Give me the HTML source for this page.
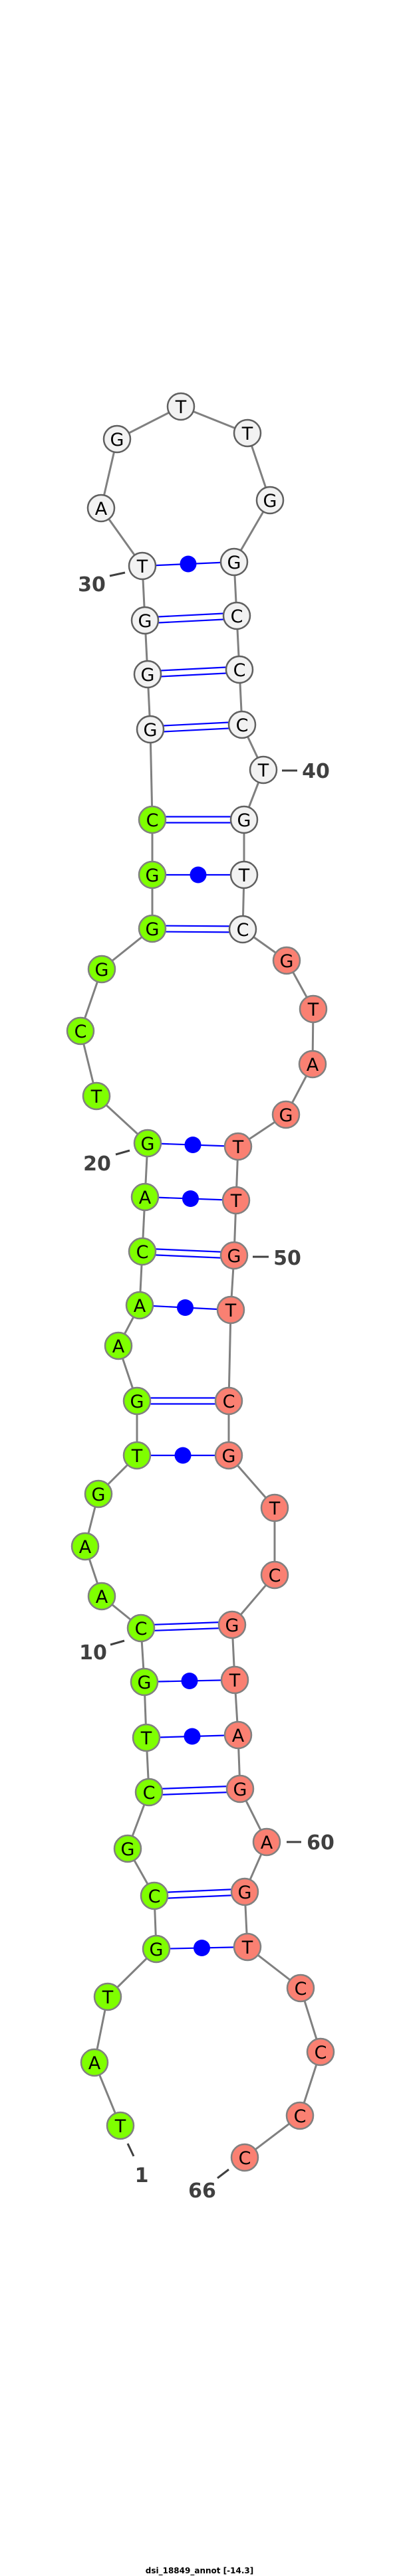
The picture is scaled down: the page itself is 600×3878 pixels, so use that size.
<!DOCTYPE html>
<html><head><meta charset="utf-8"><style>html,body{margin:0;padding:0;background:#fff}svg{display:block}</style></head>
<body>
<svg width="600" height="3878" viewBox="0 0 600 3878" xmlns="http://www.w3.org/2000/svg">
<polyline fill="none" stroke="#808080" stroke-width="3" points="181,3200 142,3105 162,3006 235,2934 232,2854 192,2783 224,2698 220,2616 217,2532 212,2451 153,2403 128,2328 148,2249 206,2191 206,2109 178,2026 210,1965 214,1884 218,1802 222,1721 145,1650 121,1552 153,1459 229,1398 229,1317 229,1234 226,1098 222,1015 218,934 214,852 152,765 176,661 272,612 372,652 406,753 352,846 356,927 360,1008 364,1091 396,1159 367,1234 367,1317 365,1399 431,1446 471,1519 470,1602 430,1678 358,1726 355,1807 352,1890 347,1972 344,2109 344,2191 413,2270 413,2371 349,2446 353,2529 358,2612 361,2693 401,2773 368,2848 372,2931 452,2993 482,3089 451,3185 368,3248"/>
<g stroke="#0000ff" stroke-width="2.2" fill="none">
<!-- single (dot) pairs -->
<line x1="235" y1="2934" x2="372" y2="2931"/>
<line x1="220" y1="2616" x2="358" y2="2612"/>
<line x1="217" y1="2532" x2="353" y2="2529"/>
<line x1="206" y1="2191" x2="344" y2="2191"/>
<line x1="210" y1="1965" x2="347" y2="1972"/>
<line x1="218" y1="1802" x2="355" y2="1807"/>
<line x1="222" y1="1721" x2="358" y2="1726"/>
<line x1="229" y1="1317" x2="367" y2="1317"/>
<line x1="214" y1="852" x2="352" y2="846"/>
<!-- double pairs -->
<line x1="232" y1="2849.5" x2="368" y2="2843.5"/><line x1="232" y1="2858.5" x2="368" y2="2852.5"/>
<line x1="224" y1="2693.5" x2="361" y2="2688.5"/><line x1="224" y1="2702.5" x2="361" y2="2697.5"/>
<line x1="212" y1="2446.5" x2="349" y2="2441.5"/><line x1="212" y1="2455.5" x2="349" y2="2450.5"/>
<line x1="206" y1="2104.5" x2="344" y2="2104.5"/><line x1="206" y1="2113.5" x2="344" y2="2113.5"/>
<line x1="214" y1="1879.5" x2="352" y2="1885.5"/><line x1="214" y1="1888.5" x2="352" y2="1894.5"/>
<line x1="229" y1="1393.5" x2="365" y2="1394.5"/><line x1="229" y1="1402.5" x2="365" y2="1403.5"/>
<line x1="229" y1="1229.5" x2="367" y2="1229.5"/><line x1="229" y1="1238.5" x2="367" y2="1238.5"/>
<line x1="226" y1="1093.5" x2="364" y2="1086.5"/><line x1="226" y1="1102.5" x2="364" y2="1095.5"/>
<line x1="222" y1="1010.5" x2="360" y2="1003.5"/><line x1="222" y1="1019.5" x2="360" y2="1012.5"/>
<line x1="218" y1="929.5" x2="356" y2="922.5"/><line x1="218" y1="938.5" x2="356" y2="931.5"/>
</g>
<g fill="#0000ff">
<circle cx="303.5" cy="2932.5" r="12.5"/>
<circle cx="289" cy="2614" r="12.5"/>
<circle cx="285" cy="2530.5" r="12.5"/>
<circle cx="275" cy="2191" r="12.5"/>
<circle cx="278.5" cy="1968.5" r="12.5"/>
<circle cx="286.5" cy="1804.5" r="12.5"/>
<circle cx="290" cy="1723.5" r="12.5"/>
<circle cx="298" cy="1317" r="12.5"/>
<circle cx="283" cy="849" r="12.5"/>
</g>
<g stroke-width="2.5">
<g fill="#7fff00" stroke="#808080">
<circle cx="181" cy="3200" r="20"/><circle cx="142" cy="3105" r="20"/><circle cx="162" cy="3006" r="20"/><circle cx="235" cy="2934" r="20"/><circle cx="232" cy="2854" r="20"/><circle cx="192" cy="2783" r="20"/><circle cx="224" cy="2698" r="20"/><circle cx="220" cy="2616" r="20"/><circle cx="217" cy="2532" r="20"/><circle cx="212" cy="2451" r="20"/><circle cx="153" cy="2403" r="20"/><circle cx="128" cy="2328" r="20"/><circle cx="148" cy="2249" r="20"/><circle cx="206" cy="2191" r="20"/><circle cx="206" cy="2109" r="20"/><circle cx="178" cy="2026" r="20"/><circle cx="210" cy="1965" r="20"/><circle cx="214" cy="1884" r="20"/><circle cx="218" cy="1802" r="20"/><circle cx="222" cy="1721" r="20"/><circle cx="145" cy="1650" r="20"/><circle cx="121" cy="1552" r="20"/><circle cx="153" cy="1459" r="20"/><circle cx="229" cy="1398" r="20"/><circle cx="229" cy="1317" r="20"/><circle cx="229" cy="1234" r="20"/>
</g>
<g fill="#f2f2f2" stroke="#606060">
<circle cx="226" cy="1098" r="20"/><circle cx="222" cy="1015" r="20"/><circle cx="218" cy="934" r="20"/><circle cx="214" cy="852" r="20"/><circle cx="152" cy="765" r="20"/><circle cx="176" cy="661" r="20"/><circle cx="272" cy="612" r="20"/><circle cx="372" cy="652" r="20"/><circle cx="406" cy="753" r="20"/><circle cx="352" cy="846" r="20"/><circle cx="356" cy="927" r="20"/><circle cx="360" cy="1008" r="20"/><circle cx="364" cy="1091" r="20"/><circle cx="396" cy="1159" r="20"/><circle cx="367" cy="1234" r="20"/><circle cx="367" cy="1317" r="20"/><circle cx="365" cy="1399" r="20"/>
</g>
<g fill="#fa8072" stroke="#808080">
<circle cx="431" cy="1446" r="20"/><circle cx="471" cy="1519" r="20"/><circle cx="470" cy="1602" r="20"/><circle cx="430" cy="1678" r="20"/><circle cx="358" cy="1726" r="20"/><circle cx="355" cy="1807" r="20"/><circle cx="352" cy="1890" r="20"/><circle cx="347" cy="1972" r="20"/><circle cx="344" cy="2109" r="20"/><circle cx="344" cy="2191" r="20"/><circle cx="413" cy="2270" r="20"/><circle cx="413" cy="2371" r="20"/><circle cx="349" cy="2446" r="20"/><circle cx="353" cy="2529" r="20"/><circle cx="358" cy="2612" r="20"/><circle cx="361" cy="2693" r="20"/><circle cx="401" cy="2773" r="20"/><circle cx="368" cy="2848" r="20"/><circle cx="372" cy="2931" r="20"/><circle cx="452" cy="2993" r="20"/><circle cx="482" cy="3089" r="20"/><circle cx="451" cy="3185" r="20"/><circle cx="368" cy="3248" r="20"/>
</g>
</g>
<g font-family="DejaVu Sans, Liberation Sans, sans-serif" font-size="27" text-anchor="middle" fill="#000">
<text x="181" y="3210">T</text><text x="142" y="3115">A</text><text x="162" y="3016">T</text><text x="235" y="2944">G</text><text x="232" y="2864">C</text><text x="192" y="2793">G</text><text x="224" y="2708">C</text><text x="220" y="2626">T</text><text x="217" y="2542">G</text><text x="212" y="2461">C</text><text x="153" y="2413">A</text><text x="128" y="2338">A</text><text x="148" y="2259">G</text><text x="206" y="2201">T</text><text x="206" y="2119">G</text><text x="178" y="2036">A</text><text x="210" y="1975">A</text><text x="214" y="1894">C</text><text x="218" y="1812">A</text><text x="222" y="1731">G</text><text x="145" y="1660">T</text><text x="121" y="1562">C</text><text x="153" y="1469">G</text><text x="229" y="1408">G</text><text x="229" y="1327">G</text><text x="229" y="1244">C</text>
<text x="226" y="1108">G</text><text x="222" y="1025">G</text><text x="218" y="944">G</text><text x="214" y="862">T</text><text x="152" y="775">A</text><text x="176" y="671">G</text><text x="272" y="622">T</text><text x="372" y="662">T</text><text x="406" y="763">G</text><text x="352" y="856">G</text><text x="356" y="937">C</text><text x="360" y="1018">C</text><text x="364" y="1101">C</text><text x="396" y="1169">T</text><text x="367" y="1244">G</text><text x="367" y="1327">T</text><text x="365" y="1409">C</text>
<text x="431" y="1456">G</text><text x="471" y="1529">T</text><text x="470" y="1612">A</text><text x="430" y="1688">G</text><text x="358" y="1736">T</text><text x="355" y="1817">T</text><text x="352" y="1900">G</text><text x="347" y="1982">T</text><text x="344" y="2119">C</text><text x="344" y="2201">G</text><text x="413" y="2280">T</text><text x="413" y="2381">C</text><text x="349" y="2456">G</text><text x="353" y="2539">T</text><text x="358" y="2622">A</text><text x="361" y="2703">G</text><text x="401" y="2783">A</text><text x="368" y="2858">G</text><text x="372" y="2941">T</text><text x="452" y="3003">C</text><text x="482" y="3099">C</text><text x="451" y="3195">C</text><text x="368" y="3258">C</text>
</g>
<g stroke="#404040" stroke-width="3">
<line x1="165" y1="867" x2="188" y2="862"/>
<line x1="424" y1="1160" x2="447" y2="1160"/>
<line x1="174" y1="1738" x2="195" y2="1732"/>
<line x1="380" y1="1892" x2="404" y2="1892"/>
<line x1="166" y1="2476" x2="187" y2="2470"/>
<line x1="431" y1="2773" x2="453" y2="2773"/>
<line x1="192" y1="3227" x2="201" y2="3246"/>
<line x1="327" y1="3279" x2="344" y2="3266"/>
</g>
<g font-family="DejaVu Sans, Liberation Sans, sans-serif" font-size="30" font-weight="bold" text-anchor="middle" fill="#404040">
<text x="138" y="890">30</text>
<text x="475" y="1171">40</text>
<text x="146" y="1762">20</text>
<text x="432" y="1904">50</text>
<text x="140" y="2498">10</text>
<text x="482" y="2784">60</text>
<text x="213" y="3285">1</text>
<text x="304" y="3308">66</text>
</g>
<text x="300" y="3874" font-family="DejaVu Sans, Liberation Sans, sans-serif" font-size="12" font-weight="bold" text-anchor="middle" fill="#000">dsi_18849_annot [-14.3]</text>
</svg>
</body></html>
